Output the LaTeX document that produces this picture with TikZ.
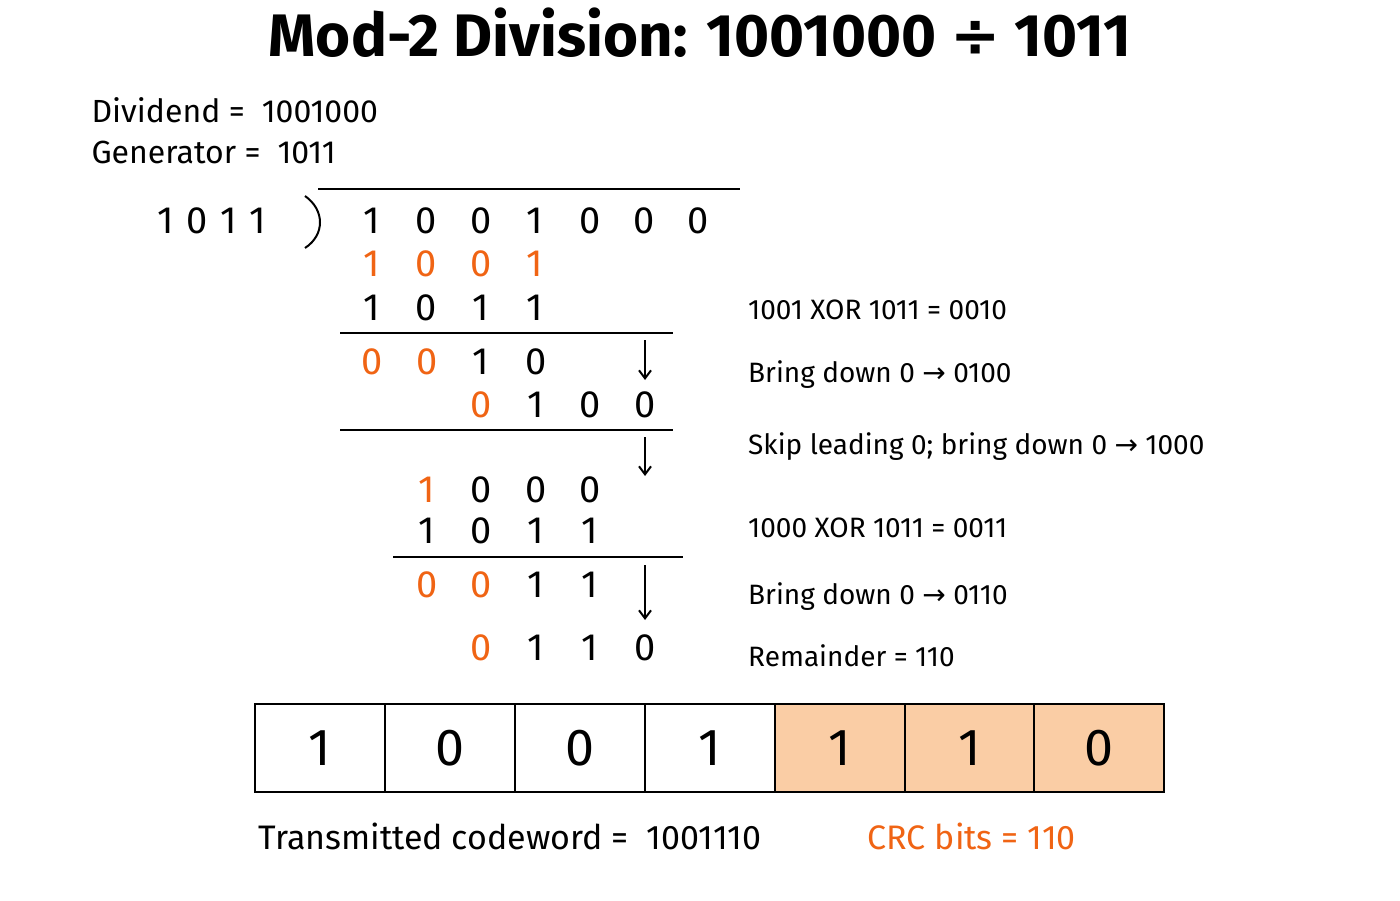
\documentclass[tikz,border=0pt]{standalone}
\usepackage{fontspec}
\usetikzlibrary{arrows.meta}
\setmainfont{Fira Sans}
\newfontfamily\symf{DejaVu Sans}
\definecolor{org}{RGB}{240,100,20}
\definecolor{crcfill}{RGB}{250,205,165}
\begin{document}
\begin{tikzpicture}[x=1pt,y=-1pt,
  dg/.style={font=\fontsize{38}{40}\selectfont,inner sep=0pt},
  og/.style={dg,text=org},
  note/.style={font=\fontsize{28}{30}\selectfont,anchor=west,inner sep=0pt},
  cell/.style={draw,line width=2pt,minimum width=129.9pt,minimum height=88pt,font=\fontsize{52}{54}\selectfont,inner sep=0pt},
  dn/.style={-{Straight Barb[length=8pt,width=12pt]},line width=2pt}]
\useasboundingbox (0,0) rectangle (1400,900);
\node[font=\bfseries\fontsize{60}{62}\selectfont] (title) at (700,33) {Mod-2 Division: 1001000 {\symf ÷} 1011};
\node[font=\fontsize{32}{34}\selectfont,anchor=west] (dv) at (88,110) {Dividend = \ 1001000};
\node[font=\fontsize{32}{34}\selectfont,anchor=west] (gn) at (88,152) {Generator = \ 1011};
\node[font=\fontsize{38}{40}\selectfont] (dvs) at (212,221) {1\,\,0\,\,1\,\,1};
\draw[line width=2pt] (318,189) -- (740,189);
\draw[line width=2pt] (305,196) .. controls (325,210) and (325,235) .. (305,248);
\foreach \i/\b in {0/1,1/0,2/0,3/1,4/0,5/0,6/0}{\node[dg] (a\i) at ({372+54.4*\i},221) {\b};}
\foreach \i/\b in {0/1,1/0,2/0,3/1}{\node[og] (b\i) at ({372+54.4*\i},264) {\b};}
\foreach \i/\b in {0/1,1/0,2/1,3/1}{\node[dg] (c\i) at ({372+54.4*\i},308) {\b};}
\draw[line width=2pt] (340,333) -- (673,333);
\node[og] at (372,362) {0};\node[og] at (427,362) {0};\node[dg] at (481,362) {1};\node[dg] at (536,362) {0};
\node[og] at (481,405) {0};\node[dg] at (536,405) {1};\node[dg] at (590,405) {0};\node[dg] at (645,405) {0};
\draw[line width=2pt] (340,430) -- (673,430);
\node[og] at (427,490) {1};\node[dg] at (481,490) {0};\node[dg] at (536,490) {0};\node[dg] at (590,490) {0};
\node[dg] at (427,531) {1};\node[dg] at (481,531) {0};\node[dg] at (536,531) {1};\node[dg] at (590,531) {1};
\draw[line width=2pt] (393,557) -- (683,557);
\node[og] at (427,585) {0};\node[og] at (481,585) {0};\node[dg] at (536,585) {1};\node[dg] at (590,585) {1};
\node[og] at (481,648) {0};\node[dg] at (536,648) {1};\node[dg] at (590,648) {1};\node[dg] at (645,648) {0};
\coordinate (p1) at (645,340);\coordinate (q1) at (645,380);
\coordinate (p2) at (645,437);\coordinate (q2) at (645,476);
\coordinate (p3) at (645,565);\coordinate (q3) at (645,620);
\draw[dn] (p1) -- (q1);\draw[dn] (p2) -- (q2);\draw[dn] (p3) -- (q3);
\node[note] at (748,310) {1001 XOR 1011 = 0010};
\node[note] at (748,375) {Bring down 0 {\symf →} 0100};
\node[note] at (748,447) {Skip leading 0; bring down 0 {\symf →} 1000};
\node[note] at (748,528) {1000 XOR 1011 = 0011};
\node[note] at (748,597) {Bring down 0 {\symf →} 0110};
\node[note] at (748,656) {Remainder = 110};
\foreach \i/\b in {0/1,1/0,2/0,3/1}{\node[cell] (k\i) at ({255+64.95+129.9*\i},748) {\b};}
\foreach \i/\b in {4/1,5/1,6/0}{\node[cell,fill=crcfill] (k\i) at ({255+64.95+129.9*\i},748) {\b};}
\node[font=\fontsize{34}{36}\selectfont,anchor=west] (tc) at (255,836) {Transmitted codeword = \ 1001110};
\node[font=\fontsize{34}{36}\selectfont,anchor=west,text=org] (crc) at (864,836) {CRC bits = 110};
\end{tikzpicture}
\end{document}
